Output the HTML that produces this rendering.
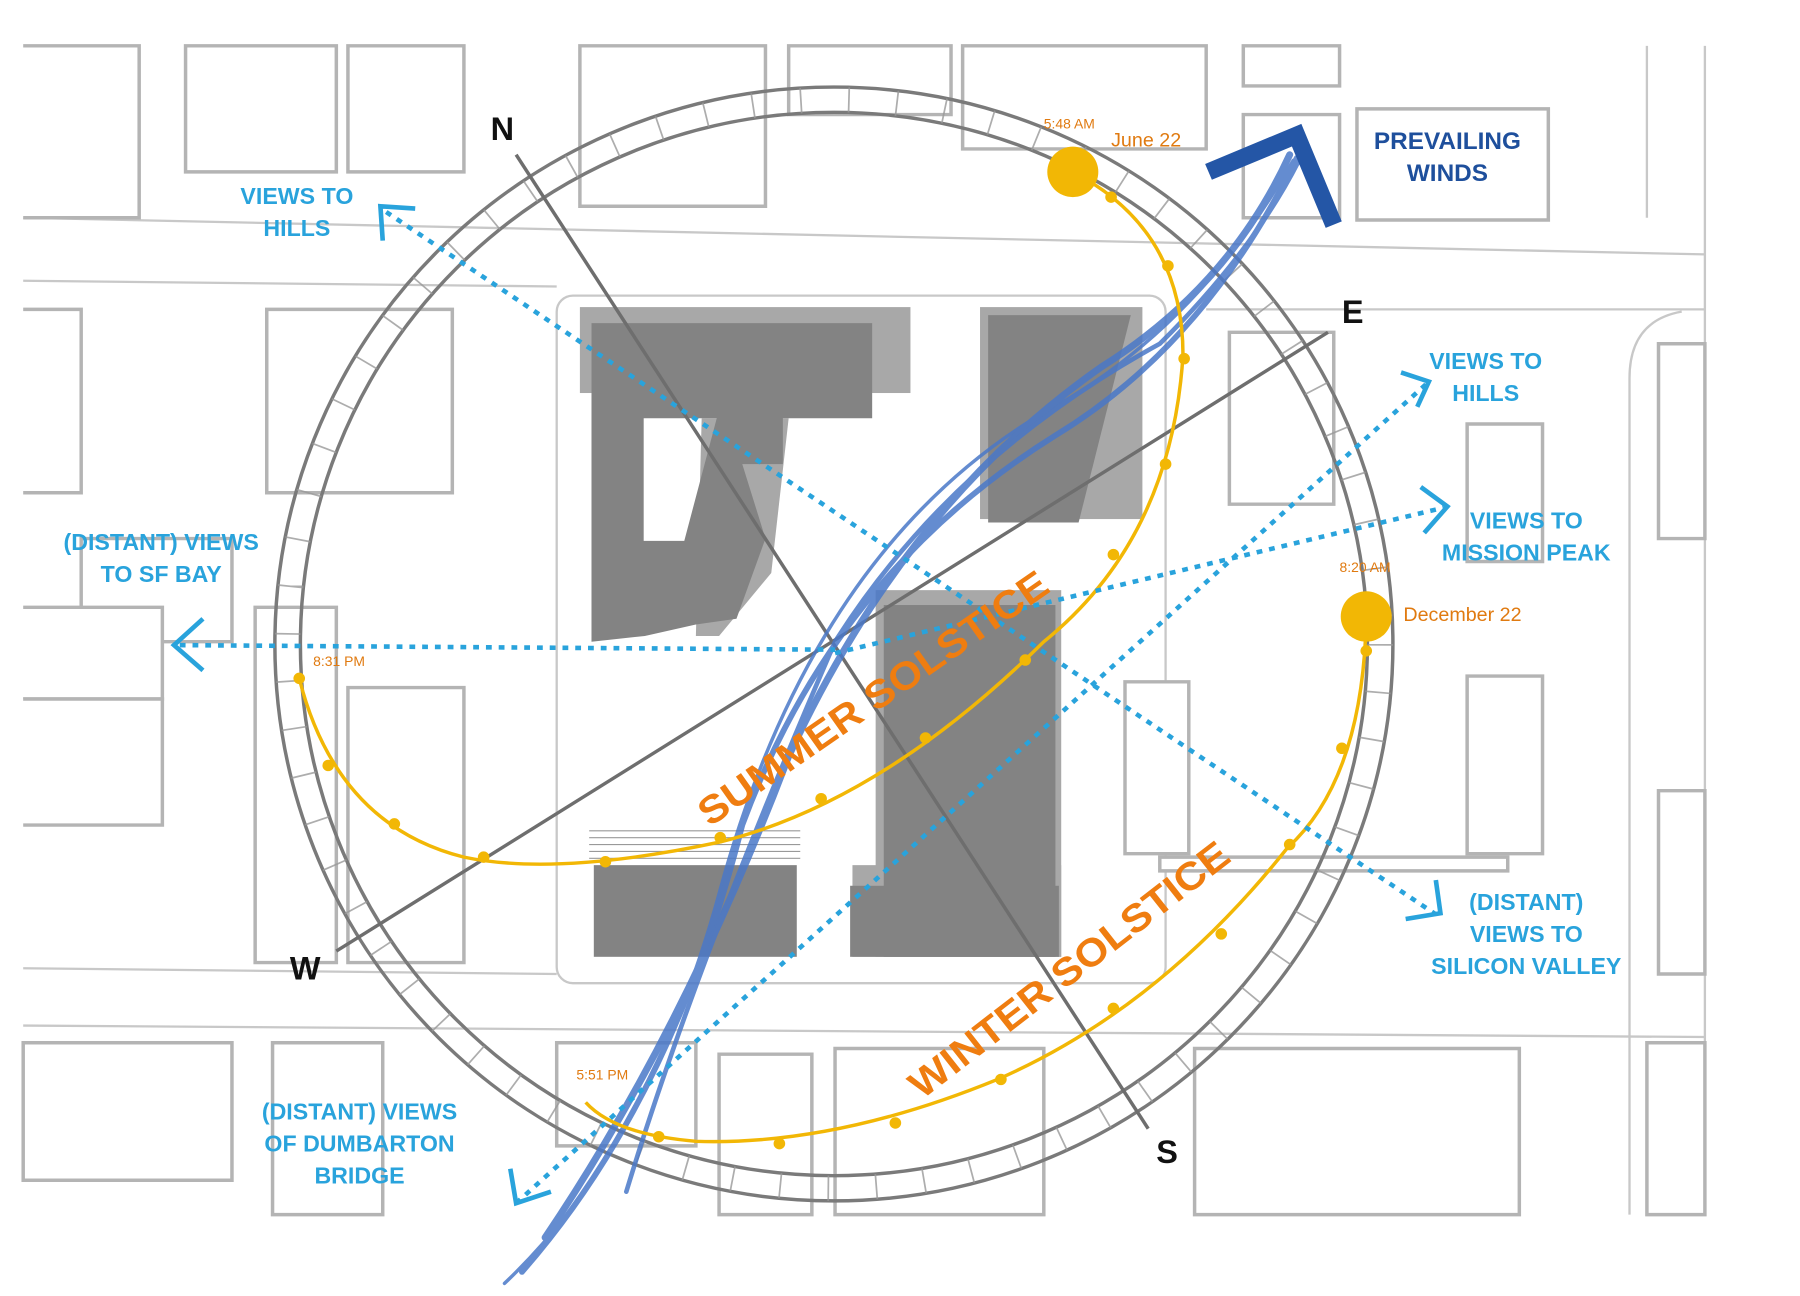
<!DOCTYPE html>
<html><head><meta charset="utf-8"><style>
html,body{margin:0;padding:0;background:#fff;}
svg{display:block}
text{font-family:"Liberation Sans",sans-serif;font-weight:bold}
</style></head><body>
<svg width="1800" height="1296" viewBox="0 0 1552 1131" preserveAspectRatio="none" xmlns="http://www.w3.org/2000/svg">
<rect width="1552" height="1131" fill="#fff"/>
<g fill="none" stroke="#c8c8c8" stroke-width="2">
<line x1="20" y1="190" x2="1470" y2="222"/>
<line x1="20" y1="245" x2="480" y2="250"/>
<line x1="20" y1="845" x2="480" y2="850"/>
<line x1="20" y1="895" x2="1470" y2="905"/>
<line x1="1470" y1="40" x2="1470" y2="1060"/>
<line x1="1420" y1="40" x2="1420" y2="190"/>
<rect x="480" y="258" width="525" height="600" rx="14"/>
<line x1="1040" y1="270" x2="1470" y2="270"/>
<path d="M1405 1060 V330 Q1405 280 1450 272"/>
</g>
<g fill="#fff" stroke="#b4b4b4" stroke-width="3">
<path d="M20 40 H120 V190 H20"/><path d="M160 40 H290 V150 H160Z"/><path d="M300 40 H400 V150 H300Z"/>
<path d="M500 40 H660 V180 H500Z"/><path d="M680 40 H820 V100 H680Z"/><path d="M830 40 H1040 V130 H830Z"/>
<path d="M1072 40 H1155 V75 H1072Z"/><path d="M1170 95 H1335 V192 H1170Z"/><path d="M1072 100 H1155 V190 H1072Z"/>
<path d="M20 270 H70 V430 H20"/><path d="M230 270 H390 V430 H230Z"/><path d="M70 470 H200 V560 H70Z"/>
<path d="M20 530 H140 V610 H20"/><path d="M220 530 H290 V840 H220Z"/><path d="M300 600 H400 V840 H300Z"/>
<path d="M20 610 H140 V720 H20"/>
<path d="M1060 290 H1150 V440 H1060Z"/><path d="M1265 370 H1330 V490 H1265Z"/><path d="M970 595 H1025 V745 H970Z"/>
<path d="M1265 590 H1330 V745 H1265Z"/><path d="M1000 748 H1300 V760 H1000Z"/><path d="M1430 300 H1470 V470 H1430Z"/>
<path d="M1430 690 H1470 V850 H1430Z"/>
<path d="M20 910 H200 V1030 H20Z"/><path d="M235 910 H330 V1060 H235Z"/><path d="M480 910 H600 V1000 H480Z"/>
<path d="M620 920 H700 V1060 H620Z"/><path d="M720 915 H900 V1060 H720Z"/><path d="M1030 915 H1310 V1060 H1030Z"/>
<path d="M1420 910 H1470 V1060 H1420Z"/>
</g>
<g fill="#a8a8a8">
<rect x="500" y="268" width="285" height="75"/><polygon points="605,365 680,365 665,500 620,555 600,555"/>
<rect x="845" y="268" width="140" height="185"/><rect x="735" y="755" width="180" height="80"/><rect x="755" y="515" width="160" height="320"/>
</g>
<g fill="#838383">
<path d="M507 282 H752 V365 H675 V405 H640 L660 470 L635 540 L600 545 L556 555 L510 560 V282Z M555 365 V472 H590 L618 365Z"/>
<polygon points="852,275 975,275 930,456 852,456"/>
<rect x="762" y="528" width="148" height="307"/><rect x="733" y="773" width="180" height="62"/>
<rect x="512" y="755" width="175" height="80"/>
</g>
<g stroke="#999" stroke-width="1"><line x1="508" y1="725" x2="690" y2="725"/><line x1="508" y1="731" x2="690" y2="731"/><line x1="508" y1="737" x2="690" y2="737"/><line x1="508" y1="743" x2="690" y2="743"/><line x1="508" y1="749" x2="690" y2="749"/></g>
<ellipse cx="719" cy="562" rx="482" ry="486" fill="none" stroke="#7a7a7a" stroke-width="3"/>
<ellipse cx="719" cy="562" rx="460" ry="464" fill="none" stroke="#7a7a7a" stroke-width="3"/>
<ellipse cx="719" cy="562" rx="471" ry="475" fill="none" stroke="#999" stroke-width="22" stroke-dasharray="1.5 40" opacity="0.8"/>
<line x1="445" y1="135" x2="990" y2="985" stroke="#6e6e6e" stroke-width="3"/>
<line x1="290" y1="830" x2="1145" y2="290" stroke="#6e6e6e" stroke-width="3"/>
<g fill="none" stroke="#4a78c8" stroke-linecap="round" opacity="0.85">
<path d="M435 1120 Q560 1000 620 780 Q700 480 900 360 Q1030 290 1115 140" stroke-width="3"/>
<path d="M450 1110 Q580 960 640 720 Q720 500 910 380 Q1040 300 1118 138" stroke-width="5"/>
<path d="M470 1080 Q590 900 680 660 Q780 440 950 320 Q1060 250 1112 135" stroke-width="6"/>
<path d="M540 1040 Q600 840 720 560 Q820 400 1000 300 Q1080 220 1120 140" stroke-width="4"/>
</g>
<polyline points="1042,150 1118,118 1150,196" fill="none" stroke="#2456a6" stroke-width="15"/>
<g fill="none" stroke="#f2b705" stroke-width="3">
<path d="M925 150 Q1020 200 1020 310 Q1010 470 900 560 Q760 700 620 735 Q480 765 400 748 Q290 720 258 592"/>
<path d="M1178 540 Q1175 680 1110 740 Q1000 880 860 942 Q720 1000 600 996 Q530 990 505 962"/>
</g>
<g fill="#f2b705">
<circle cx="925" cy="150" r="22"/><circle cx="1178" cy="538" r="22"/>
<circle cx="958" cy="172" r="5"/><circle cx="1007" cy="232" r="5"/><circle cx="1021" cy="313" r="5"/><circle cx="1005" cy="405" r="5"/><circle cx="960" cy="484" r="5"/><circle cx="884" cy="576" r="5"/><circle cx="798" cy="644" r="5"/><circle cx="708" cy="697" r="5"/><circle cx="621" cy="731" r="5"/><circle cx="522" cy="752" r="5"/><circle cx="417" cy="748" r="5"/><circle cx="340" cy="719" r="5"/><circle cx="283" cy="668" r="5"/><circle cx="258" cy="592" r="5"/>
<circle cx="1178" cy="568" r="5"/><circle cx="1157" cy="653" r="5"/><circle cx="1112" cy="737" r="5"/><circle cx="1053" cy="815" r="5"/><circle cx="960" cy="880" r="5"/><circle cx="863" cy="942" r="5"/><circle cx="772" cy="980" r="5"/><circle cx="672" cy="998" r="5"/><circle cx="568" cy="992" r="5"/>
</g>
<g fill="none" stroke="#29a3dc" stroke-width="4" stroke-dasharray="5 6">
<line x1="333" y1="185" x2="1238" y2="798"/>
<line x1="155" y1="563" x2="720" y2="567"/>
<line x1="445" y1="1050" x2="1230" y2="335"/>
<line x1="720" y1="570" x2="1245" y2="443"/>
</g>
<g fill="none" stroke="#29a3dc" stroke-width="4">
<polyline points="358,182 328,180 330,210"/>
<polyline points="175,540 150,563 175,585"/>
<polyline points="1208,325 1232,333 1222,355"/>
<polyline points="1225,425 1248,442 1228,465"/>
<polyline points="1238,768 1242,797 1212,802"/>
<polyline points="440,1020 445,1050 475,1040"/>
</g>
<g fill="#29a3dc" font-size="20" text-anchor="middle">
<text x="256" y="178">VIEWS TO</text><text x="256" y="206">HILLS</text>
<text x="1281" y="322">VIEWS TO</text><text x="1281" y="350">HILLS</text>
<text x="1316" y="461">VIEWS TO</text><text x="1316" y="489">MISSION PEAK</text>
<text x="139" y="480">(DISTANT) VIEWS</text><text x="139" y="508">TO SF BAY</text>
<text x="1316" y="794">(DISTANT)</text><text x="1316" y="822">VIEWS TO</text><text x="1316" y="850">SILICON VALLEY</text>
<text x="310" y="977">(DISTANT) VIEWS</text><text x="310" y="1005">OF DUMBARTON</text><text x="310" y="1033">BRIDGE</text>
</g>
<g fill="#1e4f9c" font-size="21" text-anchor="middle"><text x="1248" y="130">PREVAILING</text><text x="1248" y="158">WINDS</text></g>
<g fill="#111" font-size="28"><text x="423" y="122">N</text><text x="1157" y="282">E</text><text x="250" y="855">W</text><text x="997" y="1015">S</text></g>
<g fill="#e07a10">
<text x="958" y="128" font-size="17" style="font-weight:normal">June 22</text>
<text x="1210" y="542" font-size="17" style="font-weight:normal">December 22</text>
<text x="900" y="112" font-size="12" style="font-weight:normal">5:48 AM</text>
<text x="1155" y="499" font-size="12" style="font-weight:normal">8:20 AM</text>
<text x="270" y="581" font-size="12" style="font-weight:normal">8:31 PM</text>
<text x="497" y="942" font-size="12" style="font-weight:normal">5:51 PM</text>
</g>
<text x="0" y="0" font-size="34" fill="#ef7d10" textLength="360" lengthAdjust="spacingAndGlyphs" transform="translate(612 722) rotate(-35)">SUMMER SOLSTICE</text>
<text x="0" y="0" font-size="34" fill="#ef7d10" textLength="340" lengthAdjust="spacingAndGlyphs" transform="translate(795 960) rotate(-38)">WINTER SOLSTICE</text>
</svg>
</body></html>
